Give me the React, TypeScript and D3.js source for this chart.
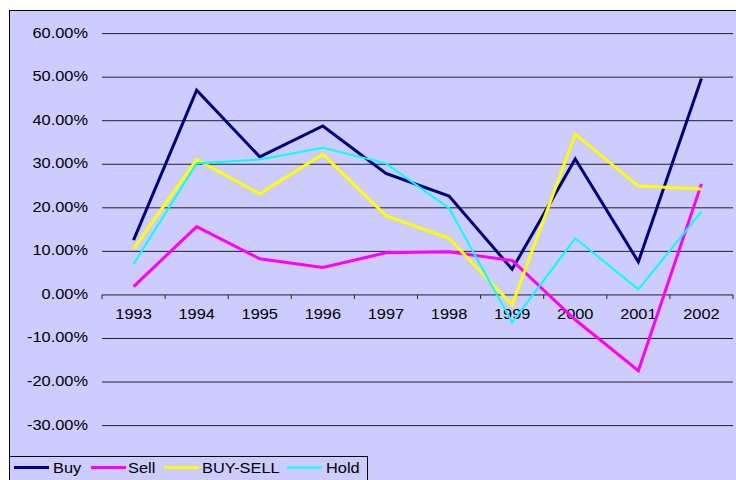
import React from 'react';
import * as d3 from 'd3';

const years = ['1993', '1994', '1995', '1996', '1997', '1998', '1999', '2000', '2001', '2002'];
const buy = [12.6, 47.0, 31.7, 38.8, 27.9, 22.7, 5.9, 31.2, 7.6, 49.7];
const sell = [1.9, 15.7, 8.3, 6.3, 9.7, 9.9, 7.9, -5.7, -17.4, 25.5];
const buySell = [10.6, 31.1, 23.2, 32.3, 18.2, 13.0, -2.3, 36.9, 25.0, 24.3];
const hold = [7.1, 30.2, 31.1, 33.8, 30.2, 19.9, -6.3, 13.0, 1.3, 19.1];
const yTicks = [-30, -20, -10, 0, 10, 20, 30, 40, 50, 60];

const series = [
  { name: 'Buy', values: buy, color: '#000080', width: 3 },
  { name: 'Sell', values: sell, color: '#FF00FF', width: 3 },
  { name: 'BUY-SELL', values: buySell, color: '#FFFF00', width: 3 },
  { name: 'Hold', values: hold, color: '#00FFFF', width: 2 },
];

// the original font is drawn a bit wide
const Label = ({ x, y, anchor, children }: any) => (
  <text
    transform={`translate(${x},${y}) scale(1.17,1)`}
    textAnchor={anchor}
    fontSize={14}
    fill="#000"
  >
    {children}
  </text>
);

export default function App() {
  const width = 736;
  const height = 480;
  const left = 102;
  const right = 733;

  const x = d3.scaleBand().domain(years).range([left, right]);
  const y = d3.scaleLinear().domain([-30, 60]).range([425.6, 33.6]);

  const line = d3
    .line<number>()
    .x((d, i) => x(years[i])! + x.bandwidth() / 2)
    .y((d) => y(d));

  const font = 'Arial, "Liberation Sans", sans-serif';
  const legendLine = [14, 91, 164, 287];
  const legendText = [53, 128, 202, 326];

  return (
    <svg
      width={width}
      height={height}
      style={{ position: 'absolute', left: 0, top: 0 }}
      fontFamily={font}
    >
      <rect x={0} y={0} width={width} height={height} fill="#fff" />
      <rect x={9.5} y={10.5} width={740} height={480} fill="#CCCCFF" stroke="#000" />

      {yTicks.map((t) => (
        <g key={t}>
          {t !== 0 && (
            <line x1={left} x2={right} y1={y(t)} y2={y(t)} stroke="#222" strokeWidth={1} />
          )}
          <Label x={88} y={y(t) + 4} anchor="end">
            {t.toFixed(2) + '%'}
          </Label>
        </g>
      ))}

      <line x1={left} x2={right} y1={y(0)} y2={y(0)} stroke="#222" />
      {[...years.map((yr) => x(yr)!), right].map((tx, i) => (
        <line key={i} x1={tx} x2={tx} y1={y(0)} y2={y(0) + 4} stroke="#222" />
      ))}
      {years.map((yr) => (
        <Label key={yr} x={x(yr)! + x.bandwidth() / 2} y={y(0) + 24.5} anchor="middle">
          {yr}
        </Label>
      ))}

      {series.map((s) => (
        <path
          key={s.name}
          d={line(s.values)!}
          fill="none"
          stroke={s.color}
          strokeWidth={s.width}
          strokeLinejoin="miter"
        />
      ))}

      <rect x={9.5} y={456.5} width={358} height={30} fill="#CCCCFF" stroke="#000" />
      {series.map((s, i) => (
        <g key={s.name}>
          <line
            x1={legendLine[i]}
            x2={legendLine[i] + 35}
            y1={467.5}
            y2={467.5}
            stroke={s.color}
            strokeWidth={s.width}
          />
          <Label x={legendText[i]} y={473} anchor="start">
            {s.name}
          </Label>
        </g>
      ))}
    </svg>
  );
}
